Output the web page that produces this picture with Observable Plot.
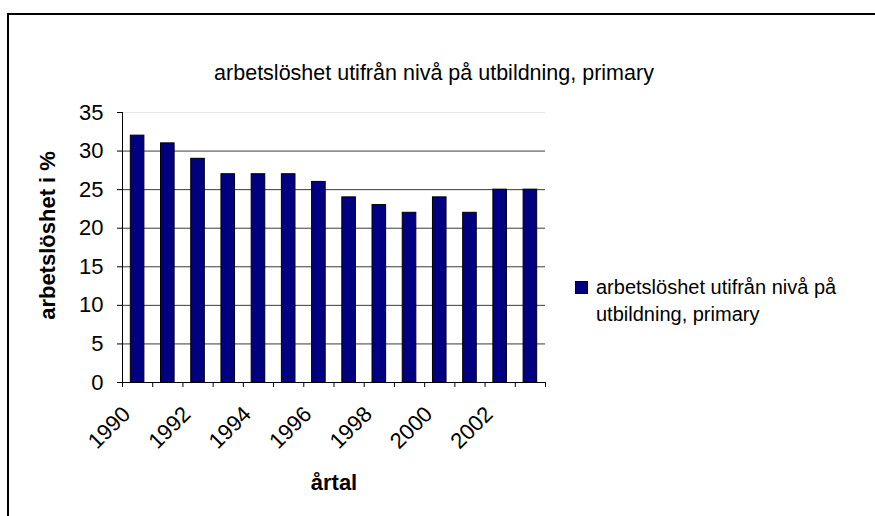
<!DOCTYPE html>
<html>
<head>
<meta charset="utf-8">
<script src="https://cdn.jsdelivr.net/npm/d3@7"></script>
<script src="https://cdn.jsdelivr.net/npm/@observablehq/plot@0.6"></script>
<style>
  html, body { margin: 0; padding: 0; background: #fff; }
  #wrap { position: relative; width: 875px; height: 516px; overflow: hidden; font-family: "Liberation Sans", Arial, sans-serif; }
  #frame { position: absolute; left: 7px; top: 13px; width: 900px; height: 600px; border-top: 2px solid #000; border-left: 2px solid #000; box-sizing: border-box; }
  #title { position: absolute; left: 0; width: 868px; top: 60px; line-height: 26px; text-align: center; font-size: 21.5px; color: #000; }
  #legend { position: absolute; left: 575px; top: 274px; font-size: 20px; line-height: 27px; color: #000; }
  #legend .sw { position: absolute; left: 0; top: 7px; width: 11px; height: 11px; background: #000080; border: 1px solid #000; }
  #legend .tx { margin-left: 21px; }
  #chart { position: absolute; left: 0; top: 0; }
</style>
</head>
<body>
<div id="wrap">
  <div id="frame"></div>
  <div id="chart"></div>
  <div id="title"></div>
  <div id="legend"><div class="sw"></div><div class="tx"></div></div>
</div>
<script>
const titleText = "arbetslöshet utifrån nivå på utbildning, primary";
const seriesName = "arbetslöshet utifrån nivå på utbildning, primary";
const years = [1990, 1991, 1992, 1993, 1994, 1995, 1996, 1997, 1998, 1999, 2000, 2001, 2002, 2003];
const values = [32, 31, 29, 27, 27, 27, 26, 24, 23, 22, 24, 22, 25, 25];
const yTicks = [0, 5, 10, 15, 20, 25, 30, 35];
const xTickLabels = [1990, 1992, 1994, 1996, 1998, 2000, 2002];
const xTitle = "årtal";
const yTitle = "arbetslöshet i %";

document.getElementById("title").textContent = titleText;
document.querySelector("#legend .tx").innerHTML = "arbetslöshet utifrån nivå på<br>utbildning, primary";

const data = years.map((y, i) => ({year: y, value: values[i]}));
const half = 0.225;
const x0 = years[0] - 0.5;
const boundaries = years.map(y => y - 0.5).concat([years[years.length - 1] + 0.5]);

const chart = Plot.plot({
  width: 875,
  height: 516,
  marginLeft: 122,
  marginRight: 330,
  marginTop: 112,
  marginBottom: 134,
  style: {fontFamily: "Liberation Sans, Arial, sans-serif", background: "transparent", overflow: "visible"},
  x: {type: "linear", domain: [x0, years[years.length - 1] + 0.5], axis: null},
  y: {type: "linear", domain: [0, 35], axis: null},
  marks: [
    Plot.ruleY(yTicks.filter(v => v > 0 && v < 35), {y: d => d, stroke: "#3a3a3a", strokeWidth: 1}),
    Plot.ruleY([35], {y: d => d, stroke: "#e6e6e6", strokeWidth: 1}),
    Plot.rectY(data, {x1: d => d.year - half, x2: d => d.year + half, y1: 0, y2: "value", fill: "#000080", stroke: "#000", strokeWidth: 1}),
    // y axis line and ticks
    Plot.ruleX([x0], {x: d => d, y1: 0, y2: 35, stroke: "#000", strokeWidth: 1}),
    Plot.ruleY(yTicks, {y: d => d, x1: x0, x2: x0, insetLeft: -5, stroke: "#000", strokeWidth: 1}),
    Plot.text(yTicks, {x: () => x0, y: d => d, text: d => String(d), dx: -19, textAnchor: "end", fontSize: 22, fill: "#000"}),
    // x axis line and ticks
    Plot.ruleY([0], {y: d => d, stroke: "#000", strokeWidth: 1}),
    Plot.ruleX(boundaries, {x: d => d, y1: 0, y2: 0, insetBottom: -5, stroke: "#000", strokeWidth: 1}),
    Plot.text(xTickLabels, {x: d => d, y: () => 0, text: d => String(d), rotate: -45, textAnchor: "end", dx: -11, dy: 28, fontSize: 22, fill: "#000"}),
    // axis titles
    Plot.text([xTitle], {x: () => (years[0] + years[years.length - 1]) / 2, y: () => 0, text: d => d, dy: 100, fontSize: 22, fontWeight: "bold", fill: "#000"}),
    Plot.text([yTitle], {x: () => x0, y: () => 17.5, text: d => d, dx: -75, dy: -12, rotate: -90, fontSize: 22, fontWeight: "bold", fill: "#000"})
  ]
});
document.getElementById("chart").appendChild(chart);
</script>
</body>
</html>
